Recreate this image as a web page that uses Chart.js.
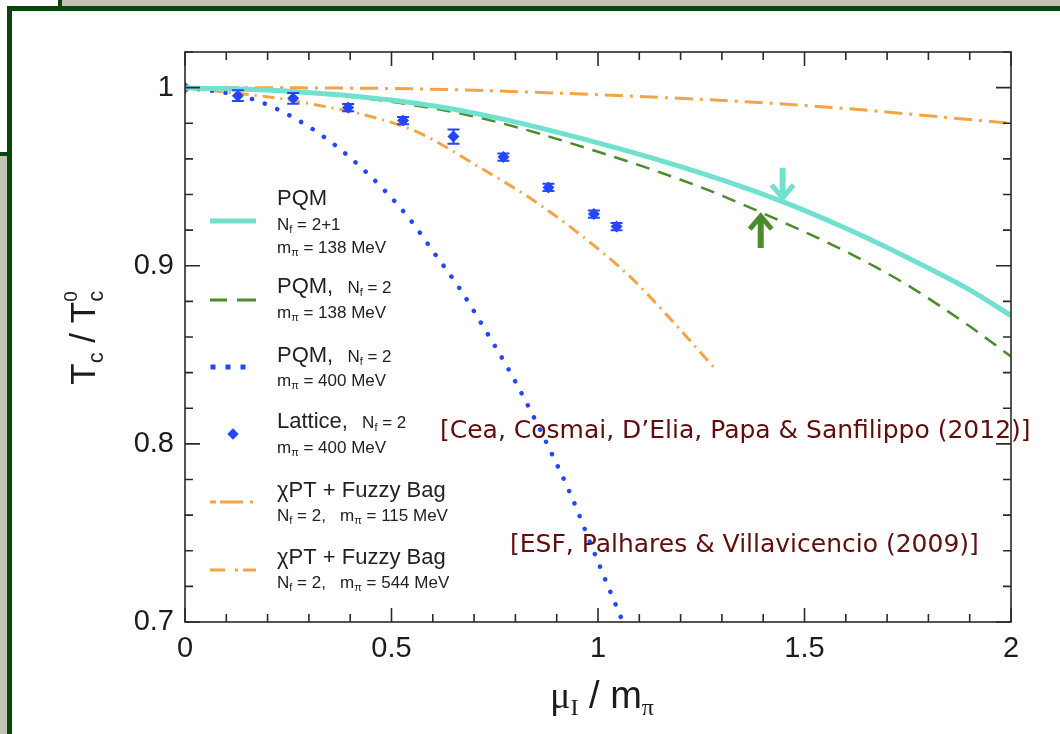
<!DOCTYPE html>
<html>
<head>
<meta charset="utf-8">
<script src="https://cdn.jsdelivr.net/npm/chart.js@4.4.1/dist/chart.umd.min.js"></script>
<style>
html, body { margin: 0; padding: 0; width: 1060px; height: 734px; overflow: hidden; background: #c2c3b5; }
#tl { position: absolute; left: 0; top: 0; width: 58px; height: 6px; background: #fff; border-right: 4px solid #0b450b; }
#lt { position: absolute; left: 0; top: 0; width: 7px; height: 152px; background: #fff; border-bottom: 4px solid #0b450b; }
#panel { position: absolute; left: 7px; top: 6px; width: 1100px; height: 800px; background: #fff; border: 5px solid #0b450b; }
#c { position: absolute; left: 0; top: 0; }
</style>
</head>
<body>
<div id="tl"></div>
<div id="lt"></div>
<div id="panel"></div>
<canvas id="c" width="1060" height="734"></canvas>
<script>
// tick labels
const xTickLabels = [0, 0.5, 1, 1.5, 2];
const yTickLabels = [0.7, 0.8, 0.9, 1];

// PQM, Nf=2+1, m_pi=138 MeV
const pqm21X = [0, 0.25, 0.5, 0.715, 1.0, 1.25, 1.447, 1.6, 1.75, 1.9, 2.0];
const pqm21Y = [1, 0.998, 0.993, 0.985, 0.969, 0.952, 0.936, 0.921, 0.9045, 0.8865, 0.872];
// PQM, Nf=2, m_pi=138 MeV
const pqm2X = [0, 0.25, 0.5, 0.715, 1.0, 1.25, 1.394, 1.6, 1.75, 1.9, 2.0];
const pqm2Y = [1, 0.998, 0.992, 0.983, 0.964, 0.944, 0.930, 0.908, 0.889, 0.866, 0.849];
// PQM, Nf=2, m_pi=400 MeV
const pqm400X = [0, 0.1, 0.187, 0.32, 0.432, 0.538, 0.604, 0.667, 0.727, 0.783, 0.836, 0.887, 0.933, 0.989, 1.06];
const pqm400Y = [1, 0.997, 0.9916, 0.975, 0.954, 0.928, 0.907, 0.8865, 0.864, 0.842, 0.819, 0.795, 0.772, 0.740, 0.700];
// Lattice, Nf=2, m_pi=400 MeV
const latX = [0, 0.128, 0.262, 0.395, 0.528, 0.65, 0.771, 0.88, 0.99, 1.045];
const latY = [1, 0.9955, 0.994, 0.9888, 0.9815, 0.9725, 0.961, 0.944, 0.929, 0.922];
const latErr = [0, 0.003, 0.003, 0.002, 0.002, 0.004, 0.002, 0.002, 0.002, 0.002];
// chiPT + Fuzzy Bag, m_pi=115 MeV
const fb115X = [0, 0.279, 0.553, 0.715, 0.861, 1.013, 1.086, 1.168, 1.28];
const fb115Y = [1, 0.992, 0.976, 0.955, 0.934, 0.907, 0.892, 0.872, 0.843];
// chiPT + Fuzzy Bag, m_pi=544 MeV
const fb544X = [0, 0.5, 1.0, 1.5, 2.0];
const fb544Y = [1, 0.9995, 0.996, 0.990, 0.980];

// arrows marking the critical points
const arrowX = [1.447, 1.394];
const arrowFrom = [0.955, 0.910];
const arrowTo = [0.937, 0.929];

const CYAN = '#70e0cf', GREEN = '#4a8c2a', BLUE = '#2346ff', ORANGE = '#f5a445', INK = '#1c1c1c';

function pts(xs, ys) { return xs.map((x, i) => ({ x: x, y: ys[i] })); }

function curve(label, xs, ys, color, width, dash, cap) {
  return {
    label: label, data: pts(xs, ys), showLine: true, borderColor: color, backgroundColor: color,
    borderWidth: width, borderDash: dash, borderCapStyle: cap || 'butt', pointRadius: 0,
    cubicInterpolationMode: 'monotone'
  };
}

// draws a run of text pieces: [text, size, dy, family, stay]
function rich(ctx, x, y, parts, measureOnly) {
  let cx = x;
  parts.forEach(p => {
    ctx.font = p[1] + 'px ' + (p[3] || '"Liberation Sans"');
    const w = ctx.measureText(p[0]).width;
    if (!measureOnly) ctx.fillText(p[0], cx, y + (p[2] || 0));
    if (!p[4]) cx += w;
  });
  return cx - x;
}

const decor = {
  id: 'decor',
  afterDatasetsDraw(chart) {
    const ctx = chart.ctx, xs = chart.scales.x, ys = chart.scales.y;
    ctx.save();
    // error bars on lattice points
    ctx.strokeStyle = BLUE; ctx.lineWidth = 2;
    latX.forEach((x, i) => {
      if (!latErr[i]) return;
      const px = xs.getPixelForValue(x);
      const y1 = ys.getPixelForValue(latY[i] + latErr[i]);
      const y2 = ys.getPixelForValue(latY[i] - latErr[i]);
      ctx.beginPath();
      ctx.moveTo(px, y1); ctx.lineTo(px, y2);
      ctx.moveTo(px - 6, y1); ctx.lineTo(px + 6, y1);
      ctx.moveTo(px - 6, y2); ctx.lineTo(px + 6, y2);
      ctx.stroke();
    });
    // arrows
    [CYAN, GREEN].forEach((col, i) => {
      const px = xs.getPixelForValue(arrowX[i]);
      const a = ys.getPixelForValue(arrowFrom[i]);
      const b = ys.getPixelForValue(arrowTo[i]);
      const dir = b > a ? 1 : -1;
      ctx.strokeStyle = col; ctx.lineWidth = 6; ctx.lineCap = 'butt';
      ctx.beginPath(); ctx.moveTo(px, a); ctx.lineTo(px, b - dir * 3); ctx.stroke();
      ctx.lineWidth = 5; ctx.lineJoin = 'miter';
      ctx.beginPath();
      ctx.moveTo(px - 11, b - dir * 15); ctx.lineTo(px, b - dir * 2); ctx.lineTo(px + 11, b - dir * 15);
      ctx.stroke();
    });
    ctx.restore();
  },
  afterDraw(chart) {
    const ctx = chart.ctx, xs = chart.scales.x, ys = chart.scales.y, ca = chart.chartArea;
    ctx.save();
    // frame
    ctx.strokeStyle = '#2a2a2a'; ctx.lineWidth = 1.6;
    ctx.strokeRect(ca.left, ca.top, ca.right - ca.left, ca.bottom - ca.top);
    // inward ticks
    ctx.beginPath();
    for (let k = 0; k <= 20; k++) {
      const px = xs.getPixelForValue(k / 10), len = k % 5 === 0 ? 14 : 8;
      ctx.moveTo(px, ca.bottom); ctx.lineTo(px, ca.bottom - len);
      ctx.moveTo(px, ca.top); ctx.lineTo(px, ca.top + len);
    }
    for (let k = 35; k <= 51; k++) {
      const py = ys.getPixelForValue(k / 50), len = k % 5 === 0 ? 15 : 8;
      ctx.moveTo(ca.left, py); ctx.lineTo(ca.left + len, py);
      ctx.moveTo(ca.right, py); ctx.lineTo(ca.right - len, py);
    }
    ctx.stroke();

    // axis titles
    ctx.fillStyle = INK; ctx.textAlign = 'left'; ctx.textBaseline = 'alphabetic';
    const xt = [['μ', 38, 0, '"Liberation Serif"'], ['I', 24, 7, '"Liberation Serif"'], [' / m', 38], ['π', 24, 7, '"Liberation Serif"']];
    const xw = rich(ctx, 0, 0, xt, true);
    rich(ctx, (ca.left + ca.right) / 2 - xw / 2 + 4, 708, xt);
    ctx.save();
    ctx.translate(95, 338); ctx.rotate(-Math.PI / 2);
    const yt = [['T', 35], ['c', 22, 8], [' / T', 35], ['c', 22, 8, null, true], ['0', 19, -18]];
    const yw = rich(ctx, 0, 0, yt, true);
    rich(ctx, -yw / 2, 0, yt);
    ctx.restore();

    // legend
    const L = 277;
    ctx.fillStyle = '#222';
    const nf = (pre, val) => [[pre, 17], ['N', 17], ['f', 11, 3], [' = ' + val, 17]];
    const mpi = (val) => [['m', 17], ['π', 11, 3], [' = ' + val + ' MeV', 17]];
    rich(ctx, L, 205, [['PQM', 22]]);
    rich(ctx, L, 230, nf('', '2+1'));
    rich(ctx, L, 253, mpi('138'));
    rich(ctx, L, 293, [['PQM,', 22]].concat(nf('   ', '2')));
    rich(ctx, L, 318, mpi('138'));
    rich(ctx, L, 362, [['PQM,', 22]].concat(nf('   ', '2')));
    rich(ctx, L, 386, mpi('400'));
    rich(ctx, L, 428, [['Lattice,', 22]].concat(nf('   ', '2')));
    rich(ctx, L, 453, mpi('400'));
    rich(ctx, L, 497, [['χPT + Fuzzy Bag', 22]]);
    rich(ctx, L, 521, nf('', '2,   ').concat(mpi('115')));
    rich(ctx, L, 564, [['χPT + Fuzzy Bag', 22]]);
    rich(ctx, L, 588, nf('', '2,   ').concat(mpi('544')));

    // legend samples
    const seg = (col, w, y, runs) => {
      ctx.strokeStyle = col; ctx.lineWidth = w; ctx.lineCap = 'butt';
      ctx.beginPath();
      runs.forEach(r => { ctx.moveTo(r[0], y); ctx.lineTo(r[1], y); });
      ctx.stroke();
    };
    seg(CYAN, 5, 221, [[210, 256]]);
    seg(GREEN, 3, 300, [[210, 227], [237, 256]]);
    ctx.fillStyle = BLUE;
    [213, 228, 243].forEach(x => ctx.fillRect(x - 2.5, 364.5, 5, 5));
    ctx.save(); ctx.translate(233, 434); ctx.rotate(Math.PI / 4); ctx.fillRect(-4, -4, 8, 8); ctx.restore();
    seg(ORANGE, 3, 502, [[210, 216], [220, 243], [250, 253]]);
    seg(ORANGE, 3, 570, [[210, 225], [235, 238], [243, 256]]);

    // references
    ctx.fillStyle = '#620c0c';
    ctx.font = '25px "DejaVu Sans"';
    ctx.fillText('[Cea, Cosmai, D\u2019Elia, Papa & Sanfilippo (2012)]', 440, 438, 605);
    ctx.fillText('[ESF, Palhares & Villavicencio (2009)]', 510, 552, 493);
    ctx.restore();
  }
};

new Chart(document.getElementById('c'), {
  type: 'scatter',
  data: {
    datasets: [
      curve('PQM Nf=2+1', pqm21X, pqm21Y, CYAN, 5, []),
      curve('PQM Nf=2 138', pqm2X, pqm2Y, GREEN, 2.5, [14, 9]),
      curve('PQM Nf=2 400', pqm400X, pqm400Y, BLUE, 4.5, [0.1, 13.5], 'round'),
      {
        label: 'Lattice', data: pts(latX, latY), showLine: false, pointStyle: 'rectRot',
        pointRadius: 6, backgroundColor: BLUE, borderColor: BLUE, borderWidth: 0
      },
      curve('Fuzzy Bag 115', fb115X, fb115Y, ORANGE, 3, [12, 6, 2, 6]),
      curve('Fuzzy Bag 544', fb544X, fb544Y, ORANGE, 3, [18, 7, 3, 7])
    ]
  },
  options: {
    responsive: false,
    animation: false,
    devicePixelRatio: 1,
    layout: { padding: { left: 0, top: 52, right: 49, bottom: 0 } },
    plugins: { legend: { display: false }, tooltip: { enabled: false } },
    scales: {
      x: {
        type: 'linear', min: 0, max: 2,
        afterFit: s => { s.height = 112; },
        afterBuildTicks: s => { s.ticks = xTickLabels.map(v => ({ value: v })); },
        grid: { display: false }, border: { display: false },
        ticks: { color: INK, font: { family: 'Liberation Sans', size: 29 }, padding: 2, maxRotation: 0, autoSkip: false, callback: v => String(v) }
      },
      y: {
        type: 'linear', min: 0.7, max: 1.02,
        afterFit: s => { s.width = 185; },
        afterBuildTicks: s => { s.ticks = yTickLabels.map(v => ({ value: v })); },
        grid: { display: false }, border: { display: false },
        ticks: { color: INK, font: { family: 'Liberation Sans', size: 29 }, padding: 3, autoSkip: false, callback: v => String(v) }
      }
    }
  },
  plugins: [decor]
});
</script>
</body>
</html>
